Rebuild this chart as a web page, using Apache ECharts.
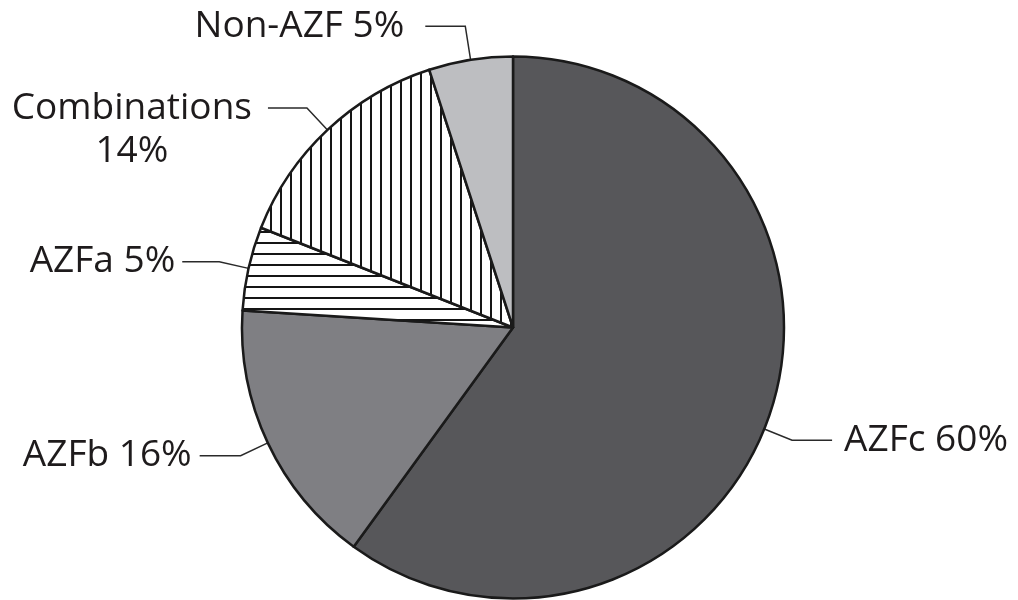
<!DOCTYPE html>
<html><head><meta charset="utf-8">
<script src="https://cdn.jsdelivr.net/npm/echarts@6/dist/echarts.min.js"></script>
<style>html,body{margin:0;padding:0;background:#fff}#c{width:1018px;height:600px}</style>
</head><body><div id="c"></div>
<script>
// ---- data ----
const categories = ['AZFc', 'AZFb', 'AZFa', 'Combinations', 'Non-AZF'];
const values = [60, 16, 5, 14, 5];
const brokenLabels = ['Combinations'];

// ---- styling ----
function stripes(dir, period, thick) {
  const c = document.createElement('canvas');
  c.width = dir === 'h' ? 8 : period;
  c.height = dir === 'h' ? period : 8;
  const g = c.getContext('2d');
  g.fillStyle = '#ffffff'; g.fillRect(0, 0, c.width, c.height);
  g.fillStyle = '#151515';
  if (dir === 'h') g.fillRect(0, 0, c.width, thick); else g.fillRect(0, 0, thick, c.height);
  return c;
}
const fills = ['#57575a', '#7f7f83',
  { image: stripes('h', 11, 2), repeat: 'repeat' },
  { image: stripes('v', 10, 2), repeat: 'repeat' },
  '#bdbec1'];
const lineLen = [30, 30, 30, 30, 34];
const lineLen2 = [40, 41, 37, 39, 40];
const gaps = [12, 8, 7, 16, 21];
const CX = 513, CY = 327.5, R = 271;
const FONT = '"Open Sans", "Noto Sans", sans-serif';
const FS = 37, LH = 43, FW = 500;

const seriesData = categories.map((name, i) => ({
  name: name,
  value: values[i],
  itemStyle: { color: fills[i] },
  label: { distanceToLabelLine: gaps[i] },
  labelLine: { length: lineLen[i], length2: lineLen2[i] }
}));

const chart = echarts.init(document.getElementById('c'), null, { renderer: 'canvas' });
chart.setOption({
  animation: false,
  series: [{
    type: 'pie',
    center: [CX, CY],
    radius: R,
    startAngle: 90,
    clockwise: true,
    avoidLabelOverlap: false,
    silent: true,
    emphasis: { disabled: true },
    itemStyle: { borderColor: '#1a1a1a', borderWidth: 2.5 },
    label: {
      show: true,
      position: 'outside',
      fontFamily: FONT,
      fontSize: FS,
      fontWeight: FW,
      color: '#1e1b1c',
      formatter: p => brokenLabels.indexOf(p.name) >= 0
        ? '{c|' + p.name + '}\n{c|' + p.value + '%}'
        : p.name + ' ' + p.value + '%',
      rich: { c: { align: 'center', fontFamily: FONT, fontSize: FS, fontWeight: FW, lineHeight: LH, color: '#1e1b1c' } }
    },
    labelLine: { show: true, lineStyle: { color: '#2a2a2a', width: 1.5 } },
    labelLayout: function (params) {
      const pts = params.labelLinePoints;
      if (!pts) return {};
      const idx = params.dataIndex;
      if (categories[idx] === 'AZFc') {
        const a = 112 * Math.PI / 180;
        const s = Math.sin(a), co = Math.cos(a);
        const p0 = [CX + R * s, CY - R * co];
        const p1 = [CX + (R + lineLen[idx]) * s, CY - (R + lineLen[idx]) * co];
        const p2 = [p1[0] + lineLen2[idx], p1[1]];
        return { x: p2[0] + gaps[idx], y: p2[1], labelLinePoints: [p0, p1, p2] };
      }
      if (brokenLabels.indexOf(categories[idx]) >= 0) {
        return { y: pts[2][1] - LH / 2, verticalAlign: 'top', labelLinePoints: pts };
      }
      return { labelLinePoints: pts };
    },
    data: seriesData
  }]
});
</script>
</body></html>
